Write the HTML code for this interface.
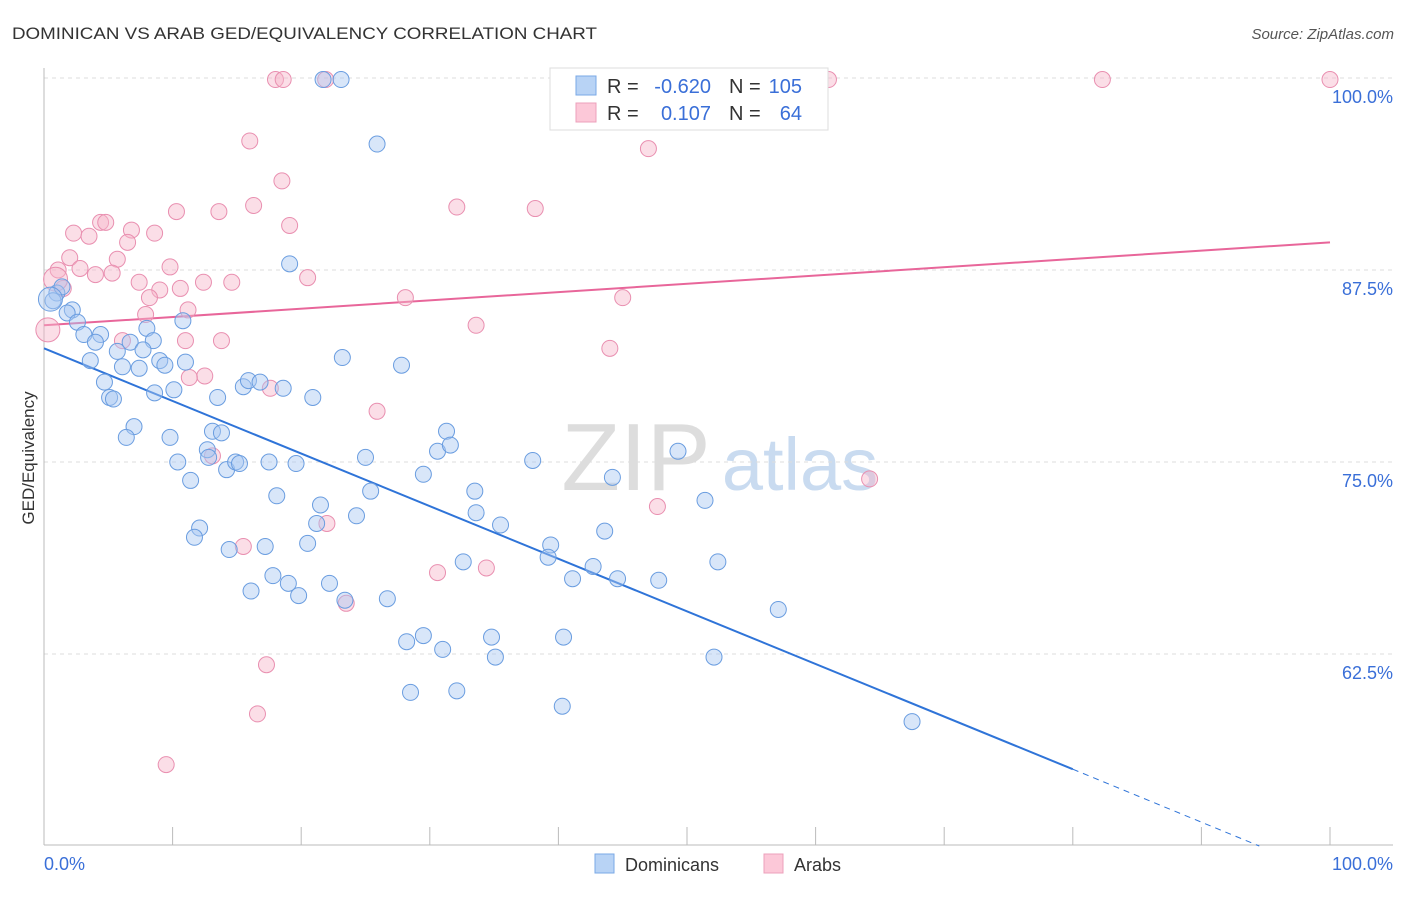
<!DOCTYPE html>
<html><head><meta charset="utf-8"><style>
body{margin:0;background:#fff;font-family:"Liberation Sans",sans-serif;}
svg text{font-family:"Liberation Sans",sans-serif;}
</style></head><body>
<svg id="chart" width="1406" height="892" viewBox="0 0 1406 892">
<text x="12" y="39" font-size="17" fill="#333" textLength="585" lengthAdjust="spacingAndGlyphs">DOMINICAN VS ARAB GED/EQUIVALENCY CORRELATION CHART</text>
<text x="1394" y="39" font-size="15" fill="#555" font-style="italic" text-anchor="end">Source: ZipAtlas.com</text>
<text x="0" y="0" font-size="17" fill="#333" transform="translate(34,458) rotate(-90)" text-anchor="middle">GED/Equivalency</text>
<g><text x="636" y="490" font-size="96" fill="#ddd" font-family="Liberation Serif" text-anchor="middle">ZIP</text><text x="800" y="490" font-size="74" fill="#c9dbf0" text-anchor="middle">atlas</text></g>
<g id="grid"></g><g id="axes"></g><g id="trend"></g><g id="pts"></g>
<g>
<rect x="550" y="68" width="278" height="62" fill="#fff" stroke="#ddd"/>
<rect x="576" y="76" width="20" height="19" fill="#b8d3f5" stroke="#7aa8e6"/>
<rect x="576" y="103" width="20" height="19" fill="#fcc8d8" stroke="#eca0bb"/>
<text x="607" y="93" font-size="20" fill="#333">R = </text><text x="711" y="93" font-size="20" fill="#3a6fd8" text-anchor="end">-0.620</text>
<text x="729" y="93" font-size="20" fill="#333">N = </text><text x="802" y="93" font-size="20" fill="#3a6fd8" text-anchor="end">105</text>
<text x="607" y="120" font-size="20" fill="#333">R = </text><text x="711" y="120" font-size="20" fill="#3a6fd8" text-anchor="end">0.107</text>
<text x="729" y="120" font-size="20" fill="#333">N = </text><text x="802" y="120" font-size="20" fill="#3a6fd8" text-anchor="end">64</text>
</g>
<g>
<rect x="595" y="854" width="19" height="19" fill="#b8d3f5" stroke="#7aa8e6"/>
<text x="625" y="871" font-size="18" fill="#333">Dominicans</text>
<rect x="764" y="854" width="19" height="19" fill="#fcc8d8" stroke="#eca0bb"/>
<text x="794" y="871" font-size="18" fill="#333">Arabs</text>
</g>
</svg>
<script>
const blueX=[1.0,1.4,0.7,2.2,1.8,2.6,3.1,4.4,4.0,3.6,5.7,6.7,8.0,8.5,7.7,6.1,7.4,9.0,9.4,10.8,11.0,4.7,5.1,5.4,8.6,10.1,13.5,15.5,15.9,16.8,18.6,20.9,23.2,27.8,19.1,25.9,21.7,23.1,7.0,6.4,9.8,13.1,13.8,12.7,12.8,10.4,11.4,14.2,14.9,15.2,17.5,19.6,25.0,30.6,31.3,31.6,29.5,25.4,18.1,21.5,24.3,33.5,33.6,35.5,21.2,12.1,11.7,14.4,17.2,20.5,38.0,39.4,39.2,32.6,41.1,42.7,43.6,44.2,44.6,47.8,49.3,51.4,52.4,57.1,52.1,67.5,17.8,19.0,16.1,19.8,22.2,23.4,26.7,28.2,29.5,31.0,34.8,35.1,40.4,28.5,32.1,40.3,0.5];
const blueY=[86.0,86.4,85.5,84.9,84.7,84.1,83.3,83.3,82.8,81.6,82.2,82.8,83.7,82.9,82.3,81.2,81.1,81.6,81.3,84.2,81.5,80.2,79.2,79.1,79.5,79.7,79.2,79.9,80.3,80.2,79.8,79.2,81.8,81.3,87.9,95.7,99.9,99.9,77.3,76.6,76.6,77.0,76.9,75.8,75.3,75.0,73.8,74.5,75.0,74.9,75.0,74.9,75.3,75.7,77.0,76.1,74.2,73.1,72.8,72.2,71.5,73.1,71.7,70.9,71.0,70.7,70.1,69.3,69.5,69.7,75.1,69.6,68.8,68.5,67.4,68.2,70.5,74.0,67.4,67.3,75.7,72.5,68.5,65.4,62.3,58.1,67.6,67.1,66.6,66.3,67.1,66.0,66.1,63.3,63.7,62.8,63.6,62.3,63.6,60.0,60.1,59.1,85.6];
const pinkX=[18.0,18.6,21.9,61.0,82.3,100,16.0,47.0,18.5,10.3,13.6,16.3,19.1,32.1,38.2,4.4,4.8,2.3,3.5,6.8,8.6,6.5,2.0,5.7,2.8,4.0,5.3,9.8,1.1,1.5,7.4,9.0,10.6,12.4,14.6,20.5,8.2,11.2,7.9,28.1,45.0,33.6,13.8,6.1,11.0,44.0,12.5,11.3,17.6,25.9,13.1,64.2,47.7,22.0,15.5,30.6,34.4,23.5,17.3,16.6,9.5,0.3,0.9];
const pinkY=[99.9,99.9,99.9,99.9,99.9,99.9,95.9,95.4,93.3,91.3,91.3,91.7,90.4,91.6,91.5,90.6,90.6,89.9,89.7,90.1,89.9,89.3,88.3,88.2,87.6,87.2,87.3,87.7,87.5,86.3,86.7,86.2,86.3,86.7,86.7,87.0,85.7,84.9,84.6,85.7,85.7,83.9,82.9,82.9,82.9,82.4,80.6,80.5,79.8,78.3,75.4,73.9,72.1,71.0,69.5,67.8,68.1,65.8,61.8,58.6,55.3,83.6,86.9];
const yTicks=[100,87.5,75,62.5];
const yTickLabels=["100.0%","87.5%","75.0%","62.5%"];
const xTicks=[0,10,20,30,40,50,60,70,80,90,100];
const blueTrend=[[0,82.4],[80,55.0],[94.5,50]];
const pinkTrend=[[0,83.9],[100,89.3]];
const NS="http://www.w3.org/2000/svg";
const sx=v=>44+v*12.86, sy=v=>78+(100-v)*15.36;
function mk(t,a,p){const e=document.createElementNS(NS,t);for(const k in a)e.setAttribute(k,a[k]);p.appendChild(e);return e;}
const grid=document.getElementById('grid'),axes=document.getElementById('axes');
yTicks.forEach((t,i)=>{
 const l=mk('line',{x1:44,x2:1393,y1:sy(t),y2:sy(t),stroke:'#ddd','stroke-dasharray':'4,4'},grid);
 
 
 const tx=mk('text',{x:1393,y:sy(t)+25,'font-size':18,fill:'#3a6fd8','text-anchor':'end'},axes);
 tx.textContent=yTickLabels[i];
 
 
});
const ax=mk('line',{x1:44,x2:1393,y1:845,y2:845,stroke:'#bbb'},axes);


const ay=mk('line',{x1:44,x2:44,y1:68,y2:845,stroke:'#bbb'},axes);


xTicks.forEach(t=>{const l=mk('line',{x1:sx(t),x2:sx(t),y1:827,y2:845,stroke:'#bbb'},axes);
 
 });
[['0.0%',44,'start'],['100.0%',1393,'end']].forEach(d=>{const t=mk('text',{x:d[1],y:870,'font-size':18,fill:'#3a6fd8','text-anchor':d[2]},axes);t.textContent=d[0];
 
 });
const pts=document.getElementById('pts');
function dots(X,Y,fill,stroke,name){X.forEach((x,i)=>{const big=(x<1.2&&i>=X.length-2);const c=mk('circle',{cx:sx(x),cy:sy(Y[i]),r:big?12:8,fill:fill,'fill-opacity':0.45,stroke:stroke,'stroke-width':1},pts);
 
 });}
dots(pinkX,pinkY,'#f7b6ca','#e98fb0','arab-point');
dots(blueX,blueY,'#a9c8f1','#6a9de0','dominican-point');
const tr=document.getElementById('trend');
const b1=mk('line',{x1:sx(blueTrend[0][0]),y1:sy(blueTrend[0][1]),x2:sx(blueTrend[1][0]),y2:sy(blueTrend[1][1]),stroke:'#2f74d8','stroke-width':2},tr);


const b2=mk('line',{x1:sx(blueTrend[1][0]),y1:sy(blueTrend[1][1]),x2:sx(blueTrend[2][0]),y2:sy(blueTrend[2][1]),stroke:'#2f74d8','stroke-width':1,'stroke-dasharray':'6,5'},tr);


const p1=mk('line',{x1:sx(pinkTrend[0][0]),y1:sy(pinkTrend[0][1]),x2:sx(pinkTrend[1][0]),y2:sy(pinkTrend[1][1]),stroke:'#e8669a','stroke-width':2},tr);


</script>
</body></html>
